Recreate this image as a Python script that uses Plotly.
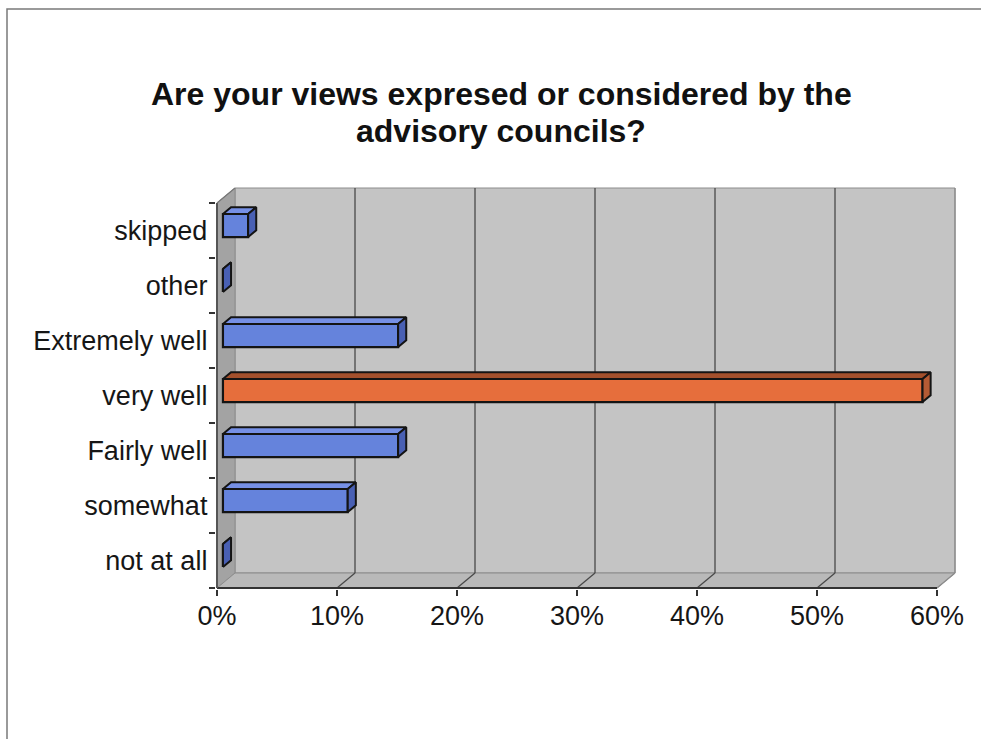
import plotly.graph_objects as go

# ---------------- data ----------------
categories = ["not at all", "somewhat", "Fairly well", "very well",
              "Extremely well", "other", "skipped"]
values = [0.0, 10.4, 14.6, 58.3, 14.6, 0.0, 2.1]          # percent
front_colors = ["#6583dc", "#6583dc", "#6583dc", "#e66e3c",
                "#6583dc", "#6583dc", "#6583dc"]
top_colors = ["#7690e6", "#7690e6", "#7690e6", "#a4502c",
              "#7690e6", "#7690e6", "#7690e6"]
side_colors = ["#4960b4", "#4960b4", "#4960b4", "#b45a34",
               "#4960b4", "#4960b4", "#4960b4"]
x_ticks = [0, 10, 20, 30, 40, 50, 60]
x_tick_labels = ["0%", "10%", "20%", "30%", "40%", "50%", "60%"]
title_lines = ["Are your views expresed or considered by the",
               "advisory councils?"]

# ---------------- 3D geometry (axis units) ----------------
X_MAX = 60
DX = 1.5            # wall depth along x (percent units)
DY = 15 / 55        # wall depth along y (category units)
F0, F1 = 0.33, 0.78  # bar front / back depth fractions
H = 0.21            # half bar height
N = len(categories)
Y_LO, Y_HI = -0.5, N - 0.5

W, HGT = 981, 739
X_RANGE = [-0.1, 61.6]
Y_RANGE = [-0.52, 6.8]
PX_PER_X = 12.0
PX_PER_Y = 55.0
x_left_px = 217 - 0.1 * PX_PER_X
x_right_px = x_left_px + (X_RANGE[1] - X_RANGE[0]) * PX_PER_X
y_bot_px = 588 + 0.02 * PX_PER_Y
y_top_px = y_bot_px - (Y_RANGE[1] - Y_RANGE[0]) * PX_PER_Y

FONT = "Liberation Sans, Arial, Helvetica, sans-serif"
TXT = "#161616"
EDGE = "#141414"

fig = go.Figure()

# front faces of bars
fig.add_trace(go.Bar(
    orientation="h",
    y=list(range(N)),
    x=values,
    base=F0 * DX,
    width=2 * H,
    offset=F0 * DY - H,
    marker=dict(color=front_colors, line=dict(color=EDGE, width=2.2)),
    hoverinfo="skip",
    showlegend=False,
))

# top and side faces
for i, v in enumerate(values):
    xf, xb = F0 * DX, F1 * DX
    yf_t, yf_b = i + F0 * DY + H, i + F0 * DY - H
    yb_t, yb_b = i + F1 * DY + H, i + F1 * DY - H
    fig.add_trace(go.Scatter(
        x=[xf, xf + v, xb + v, xb, xf],
        y=[yf_t, yf_t, yb_t, yb_t, yf_t],
        fill="toself", fillcolor=top_colors[i], mode="lines",
        line=dict(color=EDGE, width=2),
        hoverinfo="skip", showlegend=False))
    fig.add_trace(go.Scatter(
        x=[xf + v, xf + v, xb + v, xb + v, xf + v],
        y=[yf_b, yf_t, yb_t, yb_b, yf_b],
        fill="toself", fillcolor=side_colors[i], mode="lines",
        line=dict(color=EDGE, width=2),
        hoverinfo="skip", showlegend=False))

shapes = []
# back wall
shapes.append(dict(type="rect", xref="x", yref="y", layer="below",
                   x0=DX, x1=X_MAX + DX, y0=Y_LO + DY, y1=Y_HI + DY,
                   fillcolor="#c4c4c4", line=dict(color="#8c8c8c", width=1)))
# left wall
shapes.append(dict(type="path", xref="x", yref="y", layer="below",
                   path=f"M 0,{Y_LO} L 0,{Y_HI} L {DX},{Y_HI + DY} L {DX},{Y_LO + DY} Z",
                   fillcolor="#a3a3a3", line=dict(color="#8c8c8c", width=1)))
# floor
shapes.append(dict(type="path", xref="x", yref="y", layer="below",
                   path=f"M 0,{Y_LO} L {X_MAX},{Y_LO} L {X_MAX + DX},{Y_LO + DY} L {DX},{Y_LO + DY} Z",
                   fillcolor="#b9b9b9", line=dict(color="#8c8c8c", width=1)))
# gridlines on back wall and floor
for t in x_ticks[1:]:
    col = "#4a4a4a" if t < X_MAX else "#8c8c8c"
    shapes.append(dict(type="line", xref="x", yref="y", layer="below",
                       x0=t + DX, x1=t + DX, y0=Y_LO + DY, y1=Y_HI + DY,
                       line=dict(color=col, width=1.3)))
    shapes.append(dict(type="line", xref="x", yref="y", layer="below",
                       x0=t, x1=t + DX, y0=Y_LO, y1=Y_LO + DY,
                       line=dict(color=col, width=1.3)))
# front edges
shapes.append(dict(type="line", xref="x", yref="y", layer="below",
                   x0=0, x1=X_MAX, y0=Y_LO, y1=Y_LO,
                   line=dict(color="#333333", width=2)))
shapes.append(dict(type="line", xref="x", yref="y", layer="below",
                   x0=0, x1=0, y0=Y_LO, y1=Y_HI,
                   line=dict(color="#555555", width=2)))
shapes.append(dict(type="line", xref="x", yref="y", layer="below",
                   x0=0, x1=DX, y0=Y_HI, y1=Y_HI + DY,
                   line=dict(color="#777777", width=1.2)))
# outer frame
shapes.append(dict(type="rect", xref="paper", yref="paper", layer="above",
                   x0=7 / W, x1=1.05, y0=-0.05, y1=1 - 9 / HGT,
                   line=dict(color="#7a7a7a", width=1.5)))

annotations = []
title_y_px = [94, 131]
for line, ypx in zip(title_lines, title_y_px):
    annotations.append(dict(
        text=f"<b>{line}</b>", xref="paper", yref="paper",
        x=501 / W, y=1 - ypx / HGT, xanchor="center", yanchor="middle",
        showarrow=False, font=dict(family=FONT, size=32, color="#111111")))

fig.update_layout(
    width=W, height=HGT,
    margin=dict(l=0, r=0, t=0, b=0),
    paper_bgcolor="white", plot_bgcolor="rgba(0,0,0,0)",
    template="none",
    showlegend=False,
    shapes=shapes,
    annotations=annotations,
    font=dict(family=FONT, size=27, color=TXT),
    xaxis=dict(
        domain=[x_left_px / W, x_right_px / W],
        range=X_RANGE, automargin=False,
        tickmode="array", tickvals=x_ticks, ticktext=x_tick_labels,
        ticks="outside", ticklen=2, tickcolor="rgba(0,0,0,0)",
        minor=dict(tickmode="array", tickvals=x_ticks,
                   ticks="outside", ticklen=6, tickwidth=1.5,
                   tickcolor="#333333", showgrid=False),
        showgrid=False, zeroline=False, showline=False,
        tickfont=dict(family=FONT, size=27, color=TXT),
    ),
    yaxis=dict(
        domain=[1 - y_bot_px / HGT, 1 - y_top_px / HGT],
        range=Y_RANGE, automargin=False,
        tickmode="array", tickvals=list(range(N)), ticktext=categories,
        ticks="outside", ticklen=2, tickcolor="rgba(0,0,0,0)",
        minor=dict(tickmode="array",
                   tickvals=[k - 0.5 for k in range(N + 1)],
                   ticks="outside", ticklen=6, tickwidth=1.5,
                   tickcolor="#333333", showgrid=False),
        showgrid=False, zeroline=False, showline=False,
        tickfont=dict(family=FONT, size=27, color=TXT),
    ),
)

fig.write_html("out.html",
               config={"displayModeBar": False, "staticPlot": True},
               post_script="document.body.style.margin='0';"
                           "document.body.style.overflow='hidden';")
